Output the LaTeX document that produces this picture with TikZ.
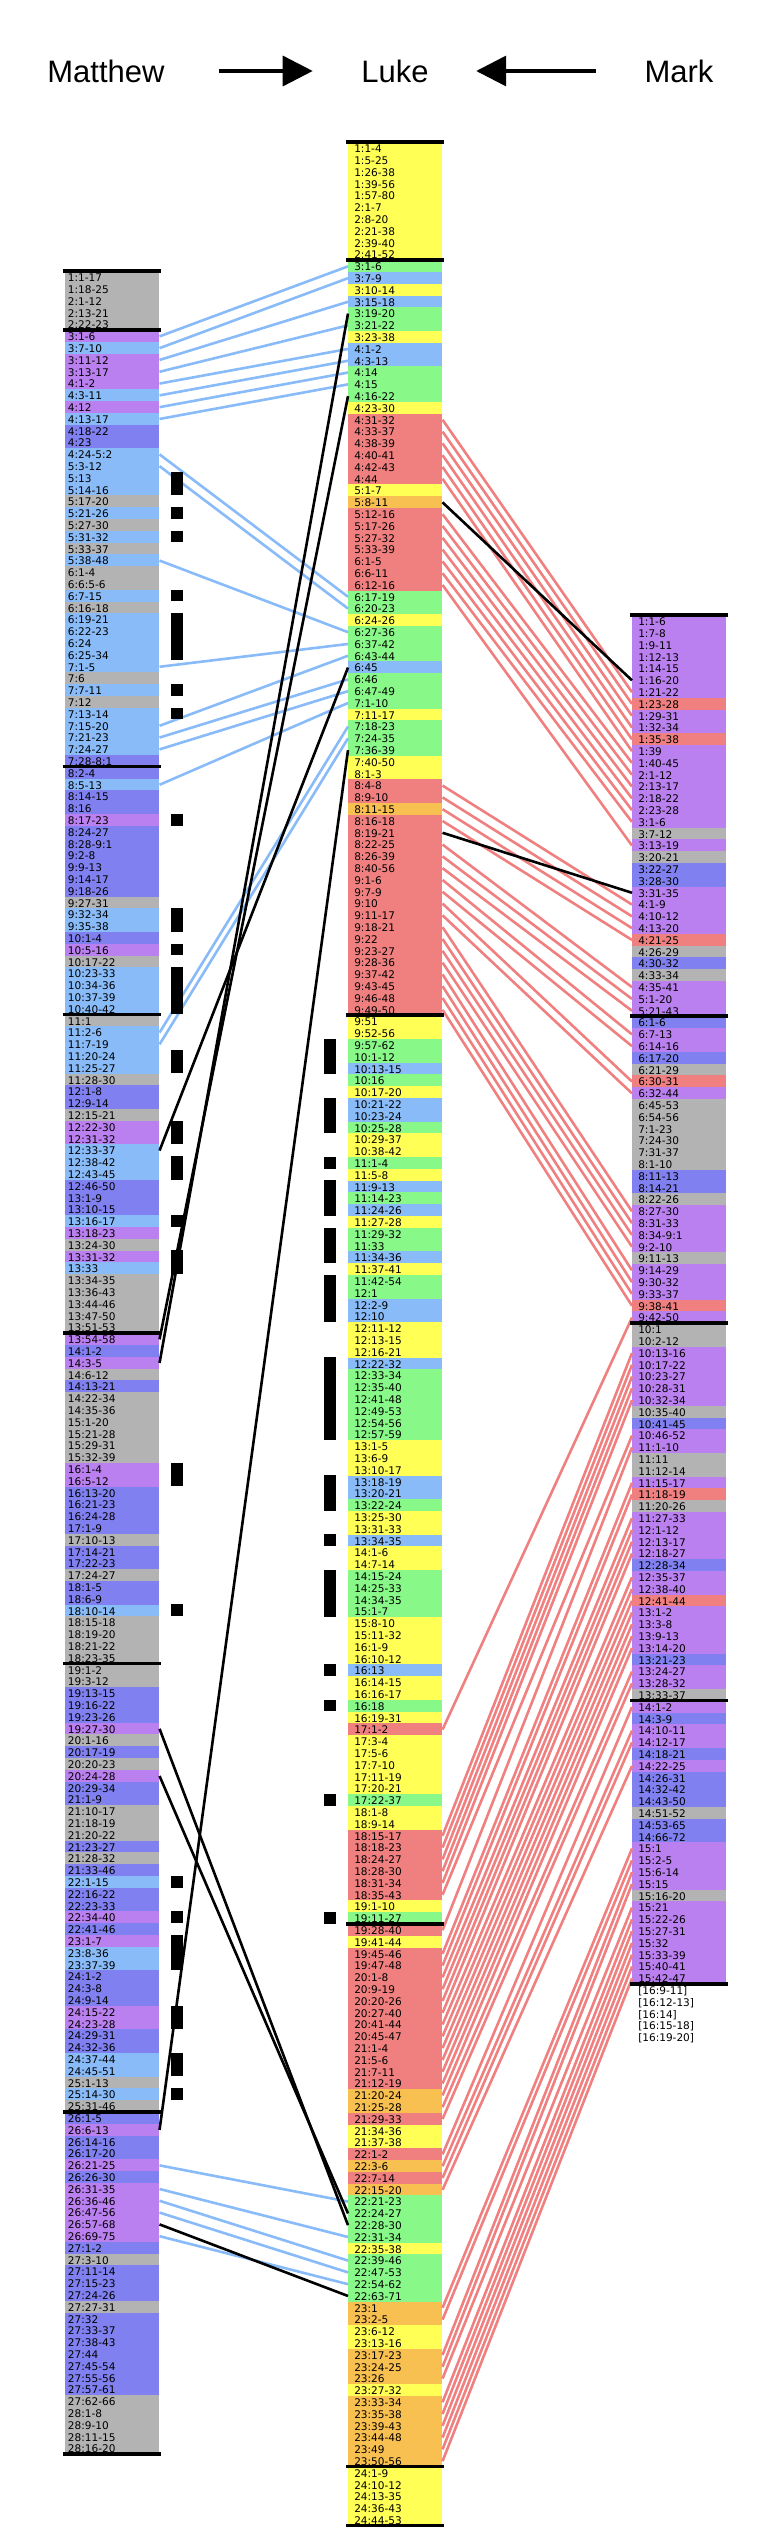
\documentclass[tikz,border=0pt]{standalone}
\usepackage{fontspec}
\setmainfont{Liberation Sans}
\newfontfamily\versefont{DejaVu Sans}
\usetikzlibrary{arrows.meta}
\definecolor{gy}{HTML}{B3B3B3}
\definecolor{lb}{HTML}{88BBF8}
\definecolor{pu}{HTML}{BB80F0}
\definecolor{bv}{HTML}{8080F0}
\definecolor{ye}{HTML}{FFFF55}
\definecolor{gn}{HTML}{88F888}
\definecolor{rd}{HTML}{F08080}
\definecolor{og}{HTML}{F8C050}

\begin{document}
\begin{tikzpicture}[x=0.75pt, y=-0.75pt,
  verse/.style={anchor=north west, inner ysep=0pt, align=left, minimum height=9.15pt,
    text height=7.4pt, text depth=0.8pt, font=\versefont\fontsize{7.9}{8}\selectfont},
  mtrow/.style={verse, inner xsep=2pt, text width=66.5pt},
  lkrow/.style={verse, inner xsep=4.5pt, text width=61.5pt},
  mkrow/.style={verse, inner xsep=4.5pt, text width=61.5pt},
  qlink/.style={line width=1.95pt, color=lb},
  mklink/.style={line width=1.95pt, color=rd},
  xlink/.style={line width=1.95pt, color=black},
  secrule/.style={line width=2.6pt},
  head/.style={inner sep=0pt, text height=16.6pt, text depth=0pt, font=\fontsize{23.25}{28}\selectfont},
  headarrow/.style={line width=2.6pt, -{Triangle[length=22.5pt, width=22.5pt]}}]
  \useasboundingbox (0,0) rectangle (767,2538);

  % Titles
  \node[head] (mt-head) at (106,71) {Matthew};
  \node[head] (lk-head) at (395,71) {Luke};
  \node[head] (mk-head) at (679,71) {Mark};
  \draw[headarrow, shorten <=40.9pt, shorten >=36.3pt] (mt-head) -- (lk-head);
  \draw[headarrow, shorten <=36.5pt, shorten >=35.5pt] (mk-head) -- (lk-head);

  % Matthew
  \foreach \lab/\c [count=\i from 0] in {1:1-17/gy,1:18-25/gy,2:1-12/gy,2:13-21/gy,2:22-23/gy,
    3:1-6/pu,3:7-10/lb,3:11-12/pu,3:13-17/pu,4:1-2/pu,4:3-11/lb,4:12/pu,4:13-17/lb,4:18-22/bv,4:23/bv,
    4:24-5:2/lb,5:3-12/lb,5:13/lb,5:14-16/lb,5:17-20/gy,5:21-26/lb,5:27-30/gy,5:31-32/lb,5:33-37/gy,5:38-48/lb,
    6:1-4/gy,6:6:5-6/gy,6:7-15/lb,6:16-18/gy,6:19-21/lb,6:22-23/lb,6:24/lb,6:25-34/lb,7:1-5/lb,7:6/gy,
    7:7-11/lb,7:12/gy,7:13-14/lb,7:15-20/lb,7:21-23/lb,7:24-27/lb,7:28-8:1/bv,
    8:2-4/bv,8:5-13/lb,8:14-15/bv,8:16/bv,8:17-23/pu,8:24-27/bv,8:28-9:1/bv,9:2-8/bv,9:9-13/bv,9:14-17/bv,
    9:18-26/bv,9:27-31/gy,9:32-34/lb,9:35-38/lb,10:1-4/bv,10:5-16/pu,10:17-22/gy,10:23-33/lb,10:34-36/lb,10:37-39/lb,10:40-42/lb,
    11:1/gy,11:2-6/lb,11:7-19/lb,11:20-24/lb,11:25-27/lb,11:28-30/gy,12:1-8/bv,12:9-14/bv,12:15-21/gy,12:22-30/pu,
    12:31-32/pu,12:33-37/lb,12:38-42/lb,12:43-45/lb,12:46-50/bv,13:1-9/bv,13:10-15/bv,13:16-17/lb,13:18-23/pu,13:24-30/gy,
    13:31-32/pu,13:33/lb,13:34-35/gy,13:36-43/gy,13:44-46/gy,13:47-50/gy,13:51-53/gy,
    13:54-58/pu,14:1-2/bv,14:3-5/pu,14:6-12/gy,14:13-21/bv,14:22-34/gy,14:35-36/gy,15:1-20/gy,15:21-28/gy,15:29-31/gy,
    15:32-39/gy,16:1-4/pu,16:5-12/pu,16:13-20/bv,16:21-23/bv,16:24-28/bv,17:1-9/bv,17:10-13/gy,17:14-21/bv,17:22-23/bv,
    17:24-27/gy,18:1-5/bv,18:6-9/bv,18:10-14/lb,18:15-18/gy,18:19-20/gy,18:21-22/gy,18:23-35/gy,
    19:1-2/gy,19:3-12/gy,19:13-15/bv,19:16-22/bv,19:23-26/bv,19:27-30/pu,20:1-16/gy,20:17-19/bv,20:20-23/gy,20:24-28/pu,
    20:29-34/bv,21:1-9/bv,21:10-17/gy,21:18-19/gy,21:20-22/gy,21:23-27/bv,21:28-32/gy,21:33-46/bv,22:1-15/lb,22:16-22/bv,
    22:23-33/bv,22:34-40/pu,22:41-46/bv,23:1-7/pu,23:8-36/lb,23:37-39/lb,24:1-2/bv,24:3-8/bv,24:9-14/bv,24:15-22/pu,
    24:23-28/pu,24:29-31/bv,24:32-36/bv,24:37-44/lb,24:45-51/lb,25:1-13/gy,25:14-30/lb,25:31-46/gy,
    26:1-5/bv,26:6-13/pu,26:14-16/bv,26:17-20/bv,26:21-25/pu,26:26-30/bv,26:31-35/pu,26:36-46/pu,26:47-56/pu,26:57-68/pu,
    26:69-75/pu,27:1-2/bv,27:3-10/gy,27:11-14/bv,27:15-23/bv,27:24-26/bv,27:27-31/gy,27:32/bv,27:33-37/bv,27:38-43/bv,
    27:44/bv,27:45-54/bv,27:55-56/bv,27:57-61/bv,27:62-66/gy,28:1-8/gy,28:9-10/gy,28:11-15/gy,28:16-20/gy}
    \node[mtrow, fill=\c] (mt\i) at (65,{271+\i*11.8}) {\lab};

  % Luke
  \foreach \lab/\c [count=\i from 0] in {1:1-4/ye,1:5-25/ye,1:26-38/ye,1:39-56/ye,1:57-80/ye,2:1-7/ye,2:8-20/ye,2:21-38/ye,2:39-40/ye,2:41-52/ye,
    3:1-6/gn,3:7-9/lb,3:10-14/ye,3:15-18/lb,3:19-20/gn,3:21-22/gn,3:23-38/ye,4:1-2/lb,4:3-13/lb,4:14/gn,
    4:15/gn,4:16-22/gn,4:23-30/ye,4:31-32/rd,4:33-37/rd,4:38-39/rd,4:40-41/rd,4:42-43/rd,4:44/rd,5:1-7/ye,
    5:8-11/og,5:12-16/rd,5:17-26/rd,5:27-32/rd,5:33-39/rd,6:1-5/rd,6:6-11/rd,6:12-16/rd,6:17-19/gn,6:20-23/gn,
    6:24-26/ye,6:27-36/gn,6:37-42/gn,6:43-44/gn,6:45/lb,6:46/gn,6:47-49/gn,7:1-10/gn,7:11-17/ye,7:18-23/gn,
    7:24-35/gn,7:36-39/gn,7:40-50/ye,8:1-3/ye,8:4-8/rd,8:9-10/rd,8:11-15/og,8:16-18/rd,8:19-21/rd,8:22-25/rd,
    8:26-39/rd,8:40-56/rd,9:1-6/rd,9:7-9/rd,9:10/rd,9:11-17/rd,9:18-21/rd,9:22/rd,9:23-27/rd,9:28-36/rd,
    9:37-42/rd,9:43-45/rd,9:46-48/rd,9:49-50/rd,
    9:51/ye,9:52-56/ye,9:57-62/gn,10:1-12/gn,10:13-15/lb,10:16/gn,10:17-20/ye,10:21-22/lb,10:23-24/lb,10:25-28/gn,
    10:29-37/ye,10:38-42/ye,11:1-4/gn,11:5-8/ye,11:9-13/lb,11:14-23/gn,11:24-26/lb,11:27-28/ye,11:29-32/gn,11:33/gn,
    11:34-36/lb,11:37-41/ye,11:42-54/gn,12:1/gn,12:2-9/lb,12:10/lb,12:11-12/ye,12:13-15/ye,12:16-21/ye,12:22-32/lb,
    12:33-34/gn,12:35-40/gn,12:41-48/gn,12:49-53/gn,12:54-56/gn,12:57-59/gn,13:1-5/ye,13:6-9/ye,13:10-17/ye,13:18-19/lb,
    13:20-21/lb,13:22-24/gn,13:25-30/ye,13:31-33/ye,13:34-35/lb,14:1-6/ye,14:7-14/ye,14:15-24/gn,14:25-33/gn,14:34-35/gn,
    15:1-7/gn,15:8-10/ye,15:11-32/ye,16:1-9/ye,16:10-12/ye,16:13/lb,16:14-15/ye,16:16-17/ye,16:18/gn,16:19-31/ye,
    17:1-2/rd,17:3-4/ye,17:5-6/ye,17:7-10/ye,17:11-19/ye,17:20-21/ye,17:22-37/gn,18:1-8/ye,18:9-14/ye,18:15-17/rd,
    18:18-23/rd,18:24-27/rd,18:28-30/rd,18:31-34/rd,18:35-43/rd,19:1-10/ye,19:11-27/gn,
    19:28-40/rd,19:41-44/ye,19:45-46/rd,19:47-48/rd,20:1-8/rd,20:9-19/rd,20:20-26/rd,20:27-40/rd,20:41-44/rd,20:45-47/rd,
    21:1-4/rd,21:5-6/rd,21:7-11/rd,21:12-19/rd,21:20-24/og,21:25-28/og,21:29-33/rd,21:34-36/ye,21:37-38/ye,22:1-2/rd,
    22:3-6/og,22:7-14/rd,22:15-20/og,22:21-23/gn,22:24-27/gn,22:28-30/gn,22:31-34/gn,22:35-38/ye,22:39-46/gn,22:47-53/gn,
    22:54-62/gn,22:63-71/gn,23:1/og,23:2-5/og,23:6-12/ye,23:13-16/ye,23:17-23/og,23:24-25/og,23:26/og,23:27-32/ye,
    23:33-34/og,23:35-38/og,23:39-43/og,23:44-48/og,23:49/og,23:50-56/og,
    24:1-9/ye,24:10-12/ye,24:13-35/ye,24:36-43/ye,24:44-53/ye}
    \node[lkrow, fill=\c] (lk\i) at (348,{142+\i*11.8}) {\lab};

  % Mark
  \foreach \lab/\c [count=\i from 0] in {1:1-6/pu,1:7-8/pu,1:9-11/pu,1:12-13/pu,1:14-15/pu,1:16-20/pu,1:21-22/pu,1:23-28/rd,1:29-31/pu,1:32-34/pu,
    1:35-38/rd,1:39/pu,1:40-45/pu,2:1-12/pu,2:13-17/pu,2:18-22/pu,2:23-28/pu,3:1-6/pu,3:7-12/gy,3:13-19/pu,
    3:20-21/gy,3:22-27/bv,3:28-30/bv,3:31-35/pu,4:1-9/pu,4:10-12/pu,4:13-20/pu,4:21-25/rd,4:26-29/gy,4:30-32/bv,
    4:33-34/gy,4:35-41/pu,5:1-20/pu,5:21-43/pu,
    6:1-6/bv,6:7-13/pu,6:14-16/pu,6:17-20/bv,6:21-29/gy,6:30-31/rd,6:32-44/pu,6:45-53/gy,6:54-56/gy,7:1-23/gy,
    7:24-30/gy,7:31-37/gy,8:1-10/gy,8:11-13/bv,8:14-21/bv,8:22-26/gy,8:27-30/pu,8:31-33/pu,8:34-9:1/pu,9:2-10/pu,
    9:11-13/gy,9:14-29/pu,9:30-32/pu,9:33-37/pu,9:38-41/rd,9:42-50/pu,
    10:1/gy,10:2-12/gy,10:13-16/pu,10:17-22/pu,10:23-27/pu,10:28-31/pu,10:32-34/pu,10:35-40/gy,10:41-45/bv,10:46-52/pu,
    11:1-10/pu,11:11/gy,11:12-14/gy,11:15-17/pu,11:18-19/rd,11:20-26/gy,11:27-33/pu,12:1-12/pu,12:13-17/pu,12:18-27/pu,
    12:28-34/bv,12:35-37/pu,12:38-40/pu,12:41-44/rd,13:1-2/pu,13:3-8/pu,13:9-13/pu,13:14-20/pu,13:21-23/bv,13:24-27/pu,
    13:28-32/pu,13:33-37/gy,
    14:1-2/pu,14:3-9/bv,14:10-11/pu,14:12-17/pu,14:18-21/bv,14:22-25/pu,14:26-31/bv,14:32-42/bv,14:43-50/bv,14:51-52/gy,
    14:53-65/bv,14:66-72/bv,15:1/pu,15:2-5/pu,15:6-14/pu,15:15/pu,15:16-20/gy,15:21/pu,15:22-26/pu,15:27-31/pu,
    15:32/pu,15:33-39/pu,15:40-41/pu,15:42-47/pu}
    \node[mkrow, fill=\c] (mk\i) at (632,{615+\i*11.8}) {\lab};
  \node[mkrow] (mk116) at (632,{615+116*11.8}) {[16:9-11]};
  \node[mkrow] (mk117) at (632,{615+117*11.8}) {[16:12-13]};
  \node[mkrow] (mk118) at (632,{615+118*11.8}) {[16:14]};
  \node[mkrow] (mk119) at (632,{615+119*11.8}) {[16:15-18]};
  \node[mkrow] (mk120) at (632,{615+120*11.8}) {[16:19-20]};

  % Matthew to Luke
  \foreach \a/\b in {5/10,6/11,7/13,8/15,9/17,10/18,11/19,12/20,15/38,16/39,24/41,33/42,38/43,39/45,40/46,43/47,
    64/49,65/50,160/174,162/177,163/179,164/180,166/181}
    \draw[qlink] (mt\a.east) -- (lk\b.west);
  \foreach \a/\b in {92/14,90/21,74/44,157/51,123/176,127/175,165/182}
    \draw[xlink] (mt\a.east) -- (lk\b.west);

  % Mark to Luke
  \foreach \a/\b in {23/6,24/7,25/8,26/9,27/10,28/11,31/12,32/13,33/14,34/15,35/16,36/17,37/19,
    54/24,55/25,56/26,57/27,59/31,60/32,61/33,62/35,63/36,64/39,65/40,66/50,67/51,68/52,69/53,70/55,71/56,72/57,73/58,
    134/59,143/62,144/63,145/64,146/65,147/66,148/69,151/70,153/73,154/74,155/76,156/77,157/78,158/79,159/81,160/82,
    161/83,162/84,163/85,164/86,165/87,166/89,167/90,170/92,171/94,172/95,173/97,183/104,184/105,187/106,188/107,
    189/109,191/110,192/111,193/112,194/113,195/114,196/115}
    \draw[mklink] (lk\a.east) -- (mk\b.west);
  \foreach \a/\b in {30/5,58/23}
    \draw[xlink] (lk\a.east) -- (mk\b.west);

  % Bars
  \foreach \a/\b in {17/18,20/20,22/22,27/27,29/32,35/35,37/37,46/46,54/55,57/57,59/62,66/67,72/73,75/76,80/80,
    83/84,101/102,113/113,136/136,139/139,141/143,147/148,151/152,154/154}
    \fill (171,{271+\a*11.8}) rectangle (183,{271+(\b+1)*11.8});
  \foreach \a/\b in {76/78,81/83,86/86,88/90,92/94,96/99,103/109,113/115,118/118,121/124,129/129,132/132,140/140,150/150}
    \fill (324,{142+\a*11.8}) rectangle (336,{142+(\b+1)*11.8});

  % Section rules
  \foreach \k in {0,5,42,63,90,118,156,185}
    \draw[secrule] (63,{271+\k*11.8}) -- (161,{271+\k*11.8});
  \foreach \k in {0,10,74,151,197,202}
    \draw[secrule] (346,{142+\k*11.8}) -- (444,{142+\k*11.8});
  \foreach \k in {0,34,60,92,116}
    \draw[secrule] (630,{615+\k*11.8}) -- (728,{615+\k*11.8});
\end{tikzpicture}
\end{document}
